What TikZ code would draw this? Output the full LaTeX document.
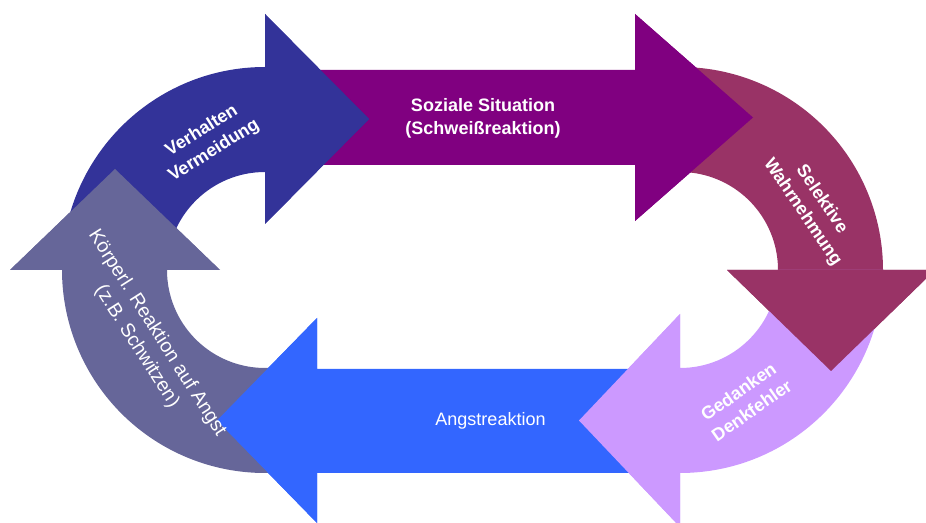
\documentclass[tikz,border=0pt]{standalone}
\usepackage{fontspec}
\setmainfont{Liberation Sans}
\definecolor{cSoz}{HTML}{800080}
\definecolor{cSel}{HTML}{993366}
\definecolor{cGed}{HTML}{CC99FF}
\definecolor{cAng}{HTML}{3366FF}
\definecolor{cKoe}{HTML}{666699}
\definecolor{cVer}{HTML}{333399}
\tikzset{
  lbl/.style={text=white, align=center, inner sep=0pt, font=\fontsize{18}{23}\selectfont\bfseries},
  lblr/.style={text=white, align=center, inner sep=0pt, font=\fontsize{18}{23}\selectfont},
  lblk/.style={text=white, align=center, inner sep=0pt, font=\fontsize{19.5}{24}\selectfont}
}
\begin{document}
\begin{tikzpicture}[x=1pt,y=1pt]
\useasboundingbox (0,0) rectangle (926,522);
\clip (0,0) rectangle (926,522);
% ---- full arrows (bodies + heads)
\fill[cSoz] (290,452) -- (635,452) -- (635,508) -- (753,404.5) -- (635,301) -- (635,357) -- (290,357) -- cycle;
\fill[cSel] (680,252) ++(95:203) arc[start angle=95,end angle=0,radius=203] -- (935,252) -- (831,151) -- (727,252) -- (778,252) arc[start angle=0,end angle=95,radius=98] -- cycle;
\fill[cGed] (883,252) arc[start angle=0,end angle=-90,radius=203] -- (680,-5) -- (579,101.5) -- (680,208) -- (680,154) arc[start angle=-90,end angle=0,radius=98] -- cycle;
\fill[cAng] (660,153) -- (317,153) -- (317,204) -- (217,101.5) -- (317,-1) -- (317,49) -- (660,49) -- cycle;
\fill[cKoe] (265,252) ++(280:203) arc[start angle=280,end angle=180,radius=203] -- (10,252) -- (115,353) -- (220,252) -- (167,252) arc[start angle=180,end angle=280,radius=98] -- cycle;
\fill[cVer] (62,252) arc[start angle=180,end angle=90,radius=203] -- (265,508) -- (369,403) -- (265,298) -- (265,350) arc[start angle=90,end angle=180,radius=98] -- cycle;
% ---- heads again, on top of the following arrow's tail
\fill[cSoz] (635,508) -- (753,404.5) -- (635,301) -- cycle;
\fill[cSel] (935,252) -- (831,151) -- (727,252) -- cycle;
\fill[cGed] (680,-5) -- (579,101.5) -- (680,208) -- cycle;
\fill[cAng] (317,204) -- (217,101.5) -- (317,-1) -- cycle;
\fill[cKoe] (10,252) -- (115,353) -- (220,252) -- cycle;
\fill[cVer] (265,508) -- (369,403) -- (265,298) -- cycle;
% ---- labels
\node[lbl] (soz) at (483,403.5) {Soziale Situation\\(Schweißreaktion)};
\node[lbl, rotate=-56] (sel) at (812,316) {Selektive\\Wahrnehmung};
\node[lbl, rotate=35] (ged) at (745,121) {Gedanken\\Denkfehler};
\node[lblr] (ang) at (490.5,101) {Angstreaktion};
\node[lblk, rotate=-57.5] (koe) at (147,182) {Körperl. Reaktion auf Angst\\(z.B. Schwitzen)};
\node[lbl, rotate=32] (ver) at (208,381) {Verhalten\\Vermeidung};
\end{tikzpicture}
\end{document}
